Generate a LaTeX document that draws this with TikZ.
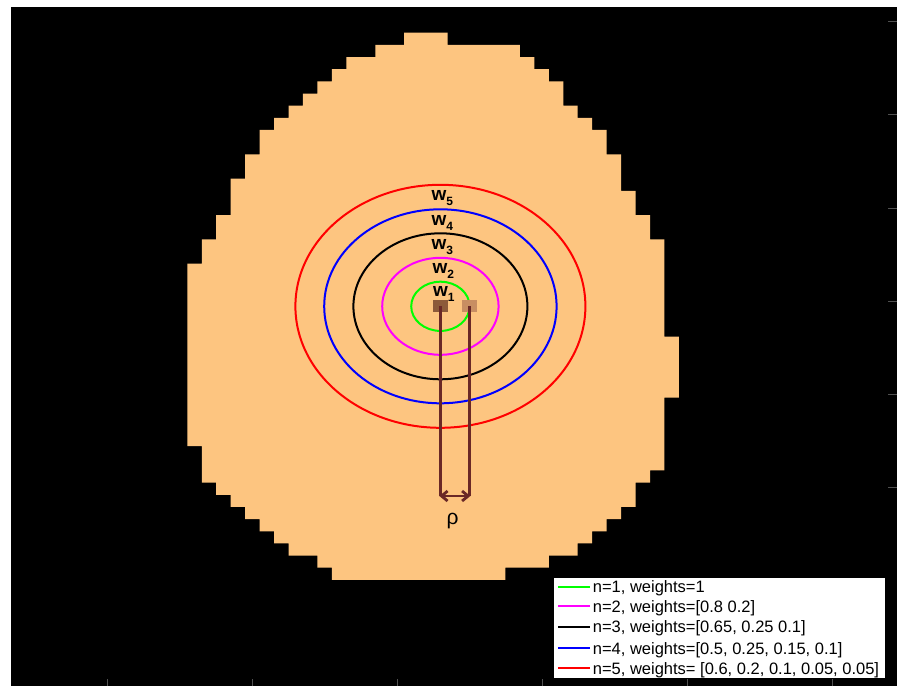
\documentclass[tikz,border=0pt]{standalone}
\usepackage{fontspec}
\setmainfont{Liberation Sans}
\usetikzlibrary{arrows.meta}
\definecolor{blobfill}{RGB}{253,197,128}
\definecolor{sqdark}{RGB}{140,90,58}
\definecolor{sqlight}{RGB}{200,142,98}
\definecolor{rholine}{RGB}{106,40,38}
\definecolor{tickgray}{RGB}{80,80,80}
\definecolor{ringgreen}{RGB}{0,255,0}
\definecolor{ringmagenta}{RGB}{255,0,255}
\definecolor{ringblue}{RGB}{0,0,255}
\definecolor{ringred}{RGB}{255,0,0}
\begin{document}
\begin{tikzpicture}[x=1pt,y=-1pt,
  ring/.style={line width=2pt},
  cell/.style={draw=none, minimum width=14.46pt, minimum height=12.16pt, inner sep=0pt},
  wlab/.style={anchor=base west, inner sep=0pt, font=\fontsize{19}{19}\selectfont\bfseries},
  legline/.style={line width=2pt},
  legtext/.style={anchor=base west, inner sep=0pt, font=\fontsize{16.5}{16.5}\selectfont},
  rhoedge/.style={draw=rholine, line width=2.8pt},
  axtick/.style={draw=tickgray, line width=0.8pt}]
\newcommand{\wsub}[1]{w\raisebox{-5pt}{\fontsize{12}{12}\selectfont #1}}
\useasboundingbox (0,0) rectangle (897,688);
\fill[white] (0,0) rectangle (897,688);
\fill[black] (10.5,7) rectangle (897,686);
% ticks
\foreach \tx in {107,252,397,542,687,832} \draw[axtick] (\tx,686) -- (\tx,679);
\foreach \ty in {21,114,208,301,394,487} \draw[axtick] (897,\ty) -- (888,\ty);
% blob on grid
\begin{scope}[shift={(187.3pt,-32.7pt)}, x=14.46pt, y=-12.16pt]
\fill[blobfill] (15,0) -- (18,0) -- (18,1) -- (23,1) -- (23,2) -- (24,2) -- (24,3) -- (25,3) -- (25,4) -- (26,4) -- (26,6) -- (27,6) -- (27,7) -- (28,7) -- (28,8) -- (29,8) -- (29,10) -- (30,10) -- (30,13) -- (31,13) -- (31,15) -- (32,15) -- (32,17) -- (33,17) -- (33,25) -- (34,25) -- (34,30) -- (33,30) -- (33,36) -- (32,36) -- (32,37) -- (31,37) -- (31,39) -- (30,39) -- (30,40) -- (29,40) -- (29,41) -- (28,41) -- (28,42) -- (27,42) -- (27,43) -- (25,43) -- (25,44) -- (22,44) -- (22,45) -- (10,45) -- (10,44) -- (9,44) -- (9,43) -- (7,43) -- (7,42) -- (6,42) -- (6,41) -- (5,41) -- (5,40) -- (4,40) -- (4,39) -- (3,39) -- (3,38) -- (2,38) -- (2,37) -- (1,37) -- (1,34) -- (0,34) -- (0,19) -- (1,19) -- (1,17) -- (2,17) -- (2,15) -- (3,15) -- (3,12) -- (4,12) -- (4,10) -- (5,10) -- (5,8) -- (6,8) -- (6,7) -- (7,7) -- (7,6) -- (8,6) -- (8,5) -- (9,5) -- (9,4) -- (10,4) -- (10,3) -- (11,3) -- (11,2) -- (13,2) -- (13,1) -- (15,1) -- cycle;
\end{scope}
% rings
\coordinate (ctr) at (440.4,306.3);
\draw[ring, ringred] (ctr) ellipse [x radius=145, y radius=121.5];
\draw[ring, ringblue] (ctr) ellipse [x radius=116.2, y radius=97];
\draw[ring, black] (ctr) ellipse [x radius=87, y radius=73];
\draw[ring, ringmagenta] (ctr) ellipse [x radius=58.2, y radius=48.5];
\draw[ring, ringgreen] (ctr) ellipse [x radius=29.2, y radius=24.6];
% labels
\node[wlab] (w5) at (431.5,200.5) {\wsub{5}};
\node[wlab] (w4) at (431.5,225) {\wsub{4}};
\node[wlab] (w3) at (431.5,249.5) {\wsub{3}};
\node[wlab] (w2) at (432.3,273.5) {\wsub{2}};
\node[wlab] (w1) at (432.8,296) {\wsub{1}};
% squares and rho
\node[cell, fill=sqdark] (c0) at (440.4,306.3) {};
\node[cell, fill=sqlight] (c1) at (469.3,306.3) {};
\coordinate (b0) at (440.4,496);
\coordinate (b1) at (469.3,496);
\draw[rhoedge] (c0.center) -- (b0);
\draw[rhoedge] (c1.center) -- (b1);
\draw[rhoedge, {Straight Barb[length=6pt,width=10pt]}-{Straight Barb[length=6pt,width=10pt]}, shorten <=-1pt, shorten >=-1pt] (b0) -- (b1);
\node[anchor=base, inner sep=0pt, font=\fontsize{21}{21}\selectfont] (rho) at (452.5,524) {ρ};
% legend
\node[draw=black, fill=white, line width=0.8pt, minimum width=332.3pt, minimum height=101.6pt, inner sep=0pt, anchor=north west] (leg) at (552.7,576.7) {};
\foreach \yy/\cc/\tt [count=\k] in {586.7/ringgreen/{n=1, weights=1}, 606/ringmagenta/{n=2, weights=[0.8 0.2]}, 626.7/black/{n=3, weights=[0.65, 0.25 0.1]}, 648.3/ringblue/{n=4, weights=[0.5, 0.25, 0.15, 0.1]}, 668.3/ringred/{n=5, weights= [0.6, 0.2, 0.1, 0.05, 0.05]}} {
  \coordinate (la\k) at (558,\yy);
  \coordinate (lb\k) at (590,\yy);
  \draw[legline, \cc] (la\k) -- (lb\k);
  \node[legtext] (lt\k) at (592.7,\yy+6) {\tt};
}
\end{tikzpicture}
\end{document}
